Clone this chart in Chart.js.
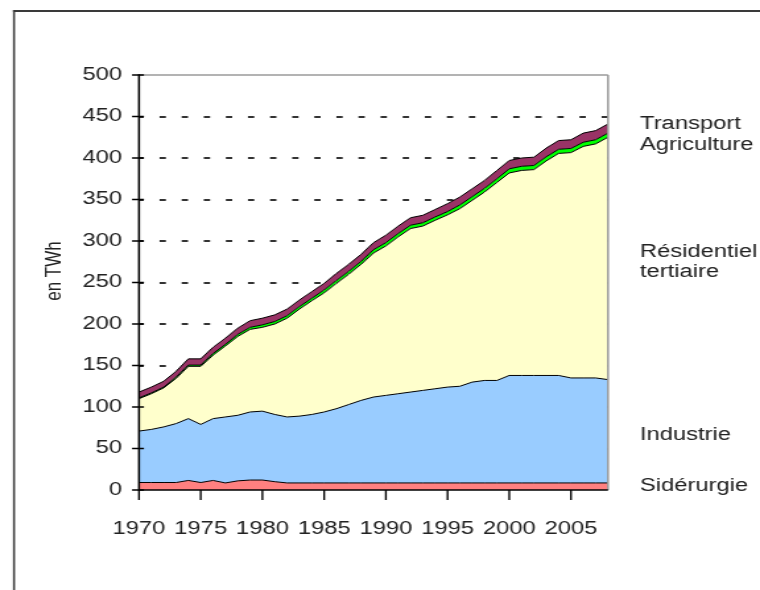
<!DOCTYPE html>
<html>
<head>
<meta charset="utf-8">
<script src="https://cdn.jsdelivr.net/npm/chart.js@4.4.1/dist/chart.umd.min.js"></script>
<style>
  html, body { margin: 0; padding: 0; background: #fff; overflow: hidden; }
  #wrap { position: absolute; left: 0; top: 0; width: 576px; height: 590px;
          transform: scaleX(1.319444); transform-origin: 0 0; }
</style>
</head>
<body>
<div id="wrap"><canvas id="c"></canvas></div>
<script>
// ---- data (TWh) ----
const years = ['1970','1971','1972','1973','1974','1975','1976','1977','1978','1979',
  '1980','1981','1982','1983','1984','1985','1986','1987','1988','1989',
  '1990','1991','1992','1993','1994','1995','1996','1997','1998','1999',
  '2000','2001','2002','2003','2004','2005','2006','2007','2008'];

const siderurgie = [9,9,9,9,11.5,9,11.5,8.5,11,12,
  12,10,8.5,8.5,8.5,8.5,8.5,8.5,8.5,8.5,
  8.5,8.5,8.5,8.5,8.5,8.5,8.5,8.5,8.5,8.5,
  8.5,8.5,8.5,8.5,8.5,8.5,8.5,8.5,8.5];

const industrie = [62,64,67,71,74.5,70,74.5,79.5,79,82,
  83,81,79.5,80.5,82.5,85.5,89.5,94.5,99.5,103.5,
  105.5,107.5,109.5,111.5,113.5,115.5,116.5,121.5,123.5,123.5,
  129.5,129.5,129.5,129.5,129.5,126.5,126.5,126.5,124.5];

const residentiel = [39,43,47,54.5,63,70,76.5,85.5,95,99.5,
  101,109,119,129,137,143.5,151,157,164,173.5,
  180,189,197,198,203,207.5,214,219,227,238.5,
  244,247,248,258.5,267.5,271.5,279,282,292];

const agriculture = [1,1,1,1.5,1.5,1.5,2,2,2.5,2.5,
  3,3,3,3,3,3.5,3.5,3.5,3.5,4,
  4,4,4,4,4,4,4.5,4.5,4.5,4.5,
  5,5,5,5,5,5,5,5,5];

const transport = [7,7,7,7,7.5,7.5,7.5,7.5,7.5,8,
  8,8,8,8,8,8,8.5,8.5,8.5,8.5,
  9,9,9,9,9,9.5,9.5,9.5,9.5,10,
  10,10,10,10.5,10.5,10.5,11,11,11];

const yTicks = { min: 0, max: 500, step: 50 };
const xLabelEvery = 5;

const rightLabels = [
  ['Transport', 129], ['Agriculture', 150],
  ['Résidentiel', 257], ['tertiaire', 277],
  ['Industrie', 440], ['Sidérurgie', 491]
];
const yTitle = 'en TWh';

// ---- drawing ----
const S = 760 / 576;          // horizontal stretch
const FONT = '"Liberation Sans", Arial, sans-serif';

const decor = {
  id: 'decor',
  beforeDraw(chart) {
    const ctx = chart.ctx;
    ctx.save();
    ctx.fillStyle = '#fff';
    ctx.fillRect(0, 0, chart.width, chart.height);
    // outer frame
    ctx.strokeStyle = '#3a3a3a';
    ctx.lineWidth = 2;
    ctx.beginPath(); ctx.moveTo(13 / S, 11); ctx.lineTo(chart.width + 10, 11); ctx.stroke();
    ctx.lineWidth = 2 / S;
    ctx.beginPath(); ctx.moveTo(14 / S, 10); ctx.lineTo(14 / S, chart.height + 10); ctx.stroke();
    ctx.restore();
  },
  afterDatasetsDraw(chart) {
    const ctx = chart.ctx;
    const { left, right, top, bottom } = chart.chartArea;
    const xs = chart.scales.x, ys = chart.scales.y;
    ctx.save();
    // top and right border (gray)
    ctx.strokeStyle = '#9a9a9a';
    ctx.lineWidth = 1.5;
    ctx.beginPath(); ctx.moveTo(left, top); ctx.lineTo(right, top); ctx.stroke();
    ctx.lineWidth = 2 / S;
    ctx.beginPath(); ctx.moveTo(right, top); ctx.lineTo(right, bottom); ctx.stroke();
    // axes
    ctx.strokeStyle = '#000';
    ctx.lineWidth = 2 / S;
    ctx.beginPath(); ctx.moveTo(left, top - 0.75); ctx.lineTo(left, bottom + 0.75); ctx.stroke();
    ctx.lineWidth = 1.5;
    ctx.beginPath(); ctx.moveTo(left, bottom); ctx.lineTo(right, bottom); ctx.stroke();
    // y tick marks (cross)
    ctx.lineWidth = 1.5;
    for (let v = yTicks.min; v <= yTicks.max; v += yTicks.step) {
      const y = ys.getPixelForValue(v);
      ctx.beginPath(); ctx.moveTo(left - 7 / S, y); ctx.lineTo(left + 5 / S, y); ctx.stroke();
    }
    // x tick marks
    ctx.lineWidth = 1.8 / S;
    years.forEach((yr, i) => {
      if (+yr % xLabelEvery === 0) {
        const x = xs.getPixelForValue(i);
        ctx.beginPath(); ctx.moveTo(x, bottom); ctx.lineTo(x, bottom + 10); ctx.stroke();
      }
    });
    ctx.restore();
  },
  afterDraw(chart) {
    const ctx = chart.ctx;
    ctx.save();
    ctx.fillStyle = '#222';
    ctx.font = '18px ' + FONT;
    ctx.textAlign = 'left';
    ctx.textBaseline = 'alphabetic';
    rightLabels.forEach(([t, y]) => ctx.fillText(t, 640 / S, y));
    ctx.translate(55 / S, 271);
    ctx.rotate(-Math.PI / 2);
    ctx.font = '17px ' + FONT;
    ctx.textAlign = 'center';
    ctx.textBaseline = 'middle';
    ctx.fillText(yTitle, 0, 0);
    ctx.restore();
  }
};

function ds(label, data, color, fill) {
  return { label, data, backgroundColor: color, borderColor: '#000', borderWidth: 1,
           fill, pointRadius: 0, tension: 0 };
}

new Chart(document.getElementById('c'), {
  type: 'line',
  data: {
    labels: years,
    datasets: [
      ds('Sidérurgie', siderurgie, '#FF8080', 'origin'),
      ds('Industrie', industrie, '#99CCFF', '-1'),
      ds('Résidentiel tertiaire', residentiel, '#FFFFCC', '-1'),
      ds('Agriculture', agriculture, '#00FF00', '-1'),
      ds('Transport', transport, '#993366', '-1')
    ]
  },
  options: {
    responsive: true,
    maintainAspectRatio: false,
    animation: false,
    layout: { padding: { top: 75, right: 576 - 608 / S, bottom: 40, left: 0 } },
    plugins: { legend: { display: false }, tooltip: { enabled: false } },
    scales: {
      x: {
        type: 'category',
        grid: { display: false },
        border: { display: false },
        afterFit(s) { s.height = 60; },
        ticks: {
          autoSkip: false, maxRotation: 0, minRotation: 0, padding: 20,
          color: '#222', font: { family: FONT, size: 18 },
          callback(v, i) { return (+years[i] % xLabelEvery === 0) ? years[i] : ''; }
        }
      },
      y: {
        stacked: true,
        min: yTicks.min, max: yTicks.max,
        afterFit(s) { s.width = 139 / S; },
        grid: {
          drawTicks: false, lineWidth: 2,
          color(c) { const v = c.tick.value; return (v === yTicks.min || v === yTicks.max) ? 'rgba(0,0,0,0)' : '#333'; }
        },
        border: { display: false, dash: [6.3 / S, 15.8 / S], dashOffset: 0.8 },
        ticks: { stepSize: yTicks.step, padding: 17 / S, color: '#222', font: { family: FONT, size: 18 } }
      }
    }
  },
  plugins: [decor]
});
</script>
</body>
</html>
